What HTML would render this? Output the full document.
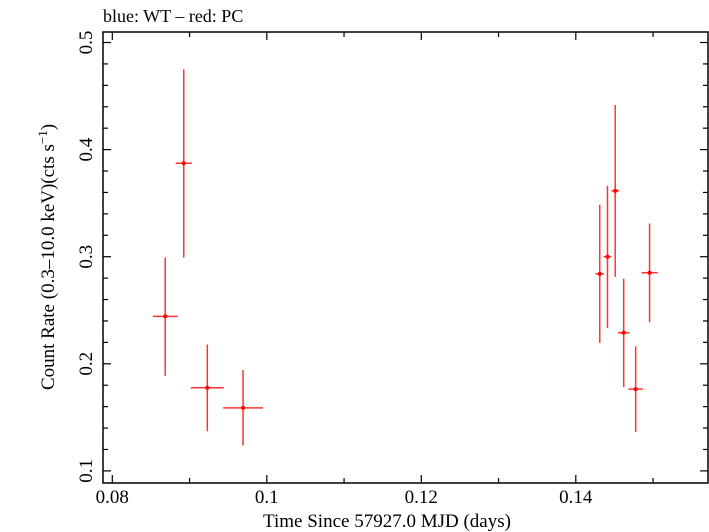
<!DOCTYPE html>
<html><head><meta charset="utf-8"><style>
body{margin:0;background:#fff}
svg{display:block;font-family:"Liberation Serif",serif}
</style></head><body>
<svg id="chart" width="709" height="532" viewBox="0 0 709 532" xmlns="http://www.w3.org/2000/svg">
<text x="103" y="22" font-size="18">blue: WT – red: PC</text>
<rect x="103" y="32" width="605" height="451" fill="none" stroke="#000" stroke-width="1.5"/>
<g id="ticks"></g>
<g id="marks"></g>
<text x="387" y="527" font-size="19" text-anchor="middle">Time Since 57927.0 MJD (days)</text>
<text transform="translate(54,257) rotate(-90)" font-size="19" text-anchor="middle">Count Rate (0.3–10.0 keV)(cts s<tspan font-size="13" dy="-7">−1</tspan><tspan dy="7">)</tspan></text>
</svg>
<script>
const times=[0.08685,0.08925,0.0923,0.09693,0.1431,0.1441,0.1451,0.1462,0.14775,0.14955];
const timeErr=[0.0016,0.00105,0.00214,0.00258,0.00056,0.0005,0.0005,0.00073,0.00094,0.00105];
const rates=[0.2443,0.3872,0.1776,0.1589,0.284,0.3,0.3615,0.229,0.1764,0.285];
const rateUp=[0.2993,0.475,0.218,0.1942,0.3485,0.3663,0.4416,0.2795,0.2163,0.331];
const rateLo=[0.1887,0.2993,0.137,0.1236,0.2195,0.2333,0.2812,0.1783,0.1363,0.2387];
const xTicks=[0.08,0.1,0.12,0.14];
const xTickLabels=["0.08","0.1","0.12","0.14"];
const yTicks=[0.1,0.2,0.3,0.4,0.5];
const yTickLabels=["0.1","0.2","0.3","0.4","0.5"];
const L=103,R=708,T=32,B=483;
const xs=t=>112.3+(t-0.08)*7725;
const ys=v=>42.5+(0.5-v)*1071;
const NS="http://www.w3.org/2000/svg";
function mk(tag,attrs,parent){const e=document.createElementNS(NS,tag);for(const k in attrs)e.setAttribute(k,attrs[k]);parent.appendChild(e);return e;}
const tg=document.getElementById('ticks');
for(let i=0;i<=8;i++){const t=0.08+i*0.01;const x=xs(t);if(x>R)break;const major=i%2===0;const len=major?8:5;
 const a=mk('line',{x1:x,x2:x,y1:B,y2:B-len,stroke:'#000','stroke-width':1.2},tg);
 
 
 const b=mk('line',{x1:x,x2:x,y1:T,y2:T+len,stroke:'#000','stroke-width':1.2},tg);
 
 }
xTicks.forEach((t,i)=>{const e=mk('text',{x:xs(t),y:503,'font-size':19,'text-anchor':'middle'},tg);e.textContent=xTickLabels[i];
 
 });
for(let i=0;i<=21;i++){const v=0.1+i*0.02;if(v>0.5+1e-9)break;const y=ys(v);const major=(i%5===0);const len=major?8:5;
 const a=mk('line',{x1:L,x2:L+len,y1:y,y2:y,stroke:'#000','stroke-width':1.2},tg);
 
 
 const b=mk('line',{x1:R,x2:R-len,y1:y,y2:y,stroke:'#000','stroke-width':1.2},tg);
 
 }
yTicks.forEach((v,i)=>{const y=ys(v);const e=mk('text',{transform:`translate(92,${y}) rotate(-90)`,'font-size':19,'text-anchor':'middle'},tg);e.textContent=yTickLabels[i];
 
 });
const mg=document.getElementById('marks');
times.forEach((t,i)=>{const g=mk('g',{},mg);
 
 
 const x=xs(t),y=ys(rates[i]);
 mk('line',{x1:x,x2:x,y1:ys(rateUp[i]),y2:ys(rateLo[i]),stroke:'#f00','stroke-width':1.5,'stroke-opacity':0.8},g);
 mk('line',{x1:xs(t-timeErr[i]),x2:xs(t+timeErr[i]),y1:y,y2:y,stroke:'#f00','stroke-width':1.5,'stroke-opacity':0.8},g);
 mk('circle',{cx:x,cy:y,r:2,fill:'#f00'},g);});
</script>
</body></html>
